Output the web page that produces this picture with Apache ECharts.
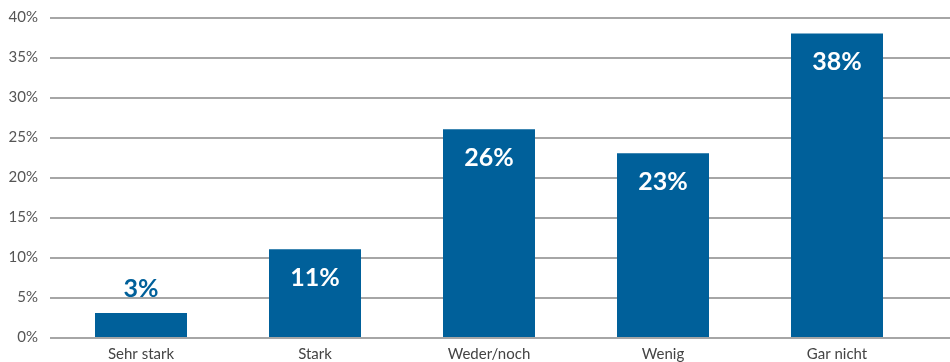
<!DOCTYPE html>
<html>
<head>
<meta charset="utf-8">
<script src="https://cdn.jsdelivr.net/npm/echarts@6/dist/echarts.min.js"></script>
<style>
  html, body { margin: 0; padding: 0; background: #fff; }
  #chart { width: 950px; height: 362px; }
</style>
</head>
<body>
<div id="chart"></div>
<script>
// Survey answers and their shares in percent
const categories = ['Sehr stark', 'Stark', 'Weder/noch', 'Wenig', 'Gar nicht'];
const shares = [3, 11, 26, 23, 38];
const yTicks = [0, 5, 10, 15, 20, 25, 30, 35, 40];

const barColor = '#00609a';
const fontFamily = 'Lato, "Open Sans", sans-serif';
const yMin = yTicks[0];
const yMax = yTicks[yTicks.length - 1];

// Short bars get their label above the bar, taller ones inside at the top
const barData = shares.map(v => {
  const small = v < 6;
  return {
    value: v,
    label: small
      ? { position: 'top', distance: 12, color: barColor }
      : { position: 'insideTop', distance: 16, color: '#ffffff' }
  };
});

const chart = echarts.init(document.getElementById('chart'), null, { renderer: 'canvas' });
chart.setOption({
  animation: false,
  // grid 0: full-width gridlines and percentage ticks; grid 1: the bars
  grid: [
    { left: 50, right: 0, top: 17.5, bottom: 24.5 },
    { left: 54, right: 26, top: 17.5, bottom: 24.5 }
  ],
  xAxis: [
    { gridIndex: 0, type: 'value', show: false, min: 0, max: 1 },
    {
      gridIndex: 1,
      type: 'category',
      data: categories,
      axisTick: { show: false },
      axisLine: { show: false },
      axisLabel: { color: '#444444', fontSize: 15, fontFamily, margin: 10 }
    }
  ],
  yAxis: [
    {
      gridIndex: 0,
      type: 'value',
      min: yMin,
      max: yMax,
      interval: 5,
      axisLine: { show: false },
      axisTick: { show: false },
      splitLine: { lineStyle: { color: '#888888', width: 1.5 } },
      axisLabel: {
        color: '#555555', fontSize: 15, fontFamily, margin: 12,
        formatter: v => v + '%'
      }
    },
    {
      gridIndex: 1,
      type: 'value',
      min: yMin,
      max: yMax,
      interval: 5,
      axisLine: { show: false },
      axisTick: { show: false },
      axisLabel: { show: false },
      splitLine: { show: false }
    }
  ],
  series: [{
    type: 'bar',
    xAxisIndex: 1,
    yAxisIndex: 1,
    data: barData,
    barWidth: 92,
    itemStyle: { color: barColor },
    label: {
      show: true,
      fontSize: 25,
      fontWeight: 'bold',
      fontFamily,
      formatter: p => p.value + '%'
    }
  }]
});
</script>
</body>
</html>
